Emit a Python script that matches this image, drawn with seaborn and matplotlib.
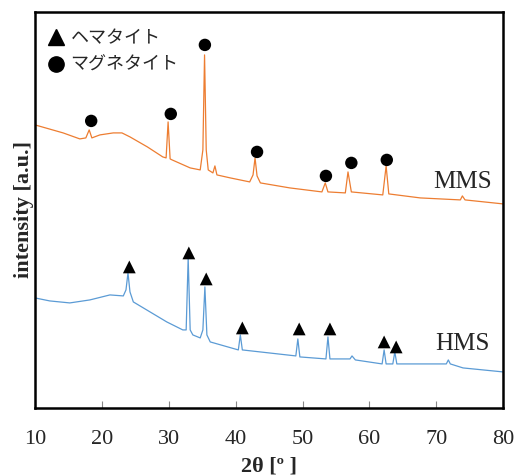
import numpy as np
import pandas as pd
import matplotlib
matplotlib.use("Agg")
import matplotlib.pyplot as plt
import seaborn as sns
from matplotlib.lines import Line2D

# ---- data (2theta in degrees, intensity in arbitrary units) ----
mms_2theta = [10.0, 14.2, 16.7, 17.6, 18.1, 18.5, 19.7, 21.7, 23.0, 24.2, 26.8, 29.1, 29.6,
              29.9, 30.2, 30.5, 33.2, 34.7, 35.1, 35.35, 35.6, 35.9, 36.6, 36.9, 37.2, 39.2,
              42.1, 42.6, 42.9, 43.2, 43.7, 48.1, 52.9, 53.4, 53.8, 56.4, 56.8, 57.3, 62.0,
              62.5, 62.9, 67.6, 73.6, 73.9, 74.3, 80.0]
mms_intensity = [283, 275, 269, 270, 278, 270, 273, 275, 275, 271, 261, 251, 250,
                 286, 249, 248, 240, 238, 258, 353, 258, 238, 235, 242, 233, 230,
                 226, 233, 250, 232, 225, 220, 216, 225, 216, 215, 236, 216, 213,
                 242, 214, 210, 208, 212, 208, 204]

hms_2theta = [10.0, 12.2, 15.2, 18.2, 21.2, 23.2, 23.6, 23.9, 24.2, 24.7, 27.2, 29.7, 32.1,
              32.6, 32.9, 33.2, 33.6, 34.7, 35.1, 35.4, 35.7, 36.2, 40.4, 40.7, 41.0, 49.0,
              49.3, 49.6, 53.5, 53.8, 54.1, 57.1, 57.4, 57.9, 61.9, 62.2, 62.5, 63.5, 63.8,
              64.1, 71.5, 71.8, 72.1, 74.0, 80.0]
hms_intensity = [110, 107, 105, 108, 113, 112, 118, 135, 116, 106, 96, 86, 78,
                 78, 150, 78, 73, 70, 78, 121, 73, 66, 58, 73, 58, 52,
                 69, 51, 49, 71, 49, 49, 52, 48, 44, 58, 44, 44, 56,
                 44, 44, 48, 44, 40, 36]

magnetite_2theta = [18.4, 30.3, 35.4, 43.2, 53.5, 57.3, 62.6]
magnetite_mark_y = [287, 294, 363, 256, 232, 245, 248]
hematite_2theta = [24.1, 33.0, 35.6, 41.0, 49.5, 54.1, 62.2, 64.0]
hematite_mark_y = [141, 155, 129, 80, 79, 79, 66, 61]

x_ticks = [10, 20, 30, 40, 50, 60, 70, 80]
sample_labels = ["MMS", "HMS"]
legend_labels = ["ヘマタイト", "マグネタイト"]

# ---- styling ----
sns.set_style("white")
plt.rcParams["font.family"] = ["Liberation Serif", "Noto Sans CJK JP"]

fig = plt.figure(figsize=(5.15, 4.76), dpi=100)
ax = fig.add_axes([0.068, 0.143, 0.909, 0.832])

df_m = pd.DataFrame({"x": mms_2theta, "y": mms_intensity})
df_h = pd.DataFrame({"x": hms_2theta, "y": hms_intensity})
sns.lineplot(data=df_m, x="x", y="y", ax=ax, color="#ED7D31", lw=0.9,
             sort=False, estimator=None)
sns.lineplot(data=df_h, x="x", y="y", ax=ax, color="#5B9BD5", lw=0.9,
             sort=False, estimator=None)

sns.scatterplot(x=hematite_2theta, y=hematite_mark_y, ax=ax, marker="^",
                color="black", s=85, edgecolor="none", zorder=5)
sns.scatterplot(x=magnetite_2theta, y=magnetite_mark_y, ax=ax, marker="o",
                color="black", s=80, edgecolor="none", zorder=5)

ax.text(73.9, 226, sample_labels[0], fontsize=18, ha="center", va="center",
        family="Liberation Serif")
ax.text(73.9, 64, sample_labels[1], fontsize=18, ha="center", va="center",
        family="Liberation Serif")

handles = [Line2D([], [], ls="none", marker="^", color="black", markersize=11),
           Line2D([], [], ls="none", marker="o", color="black", markersize=11)]
ax.legend(handles, legend_labels, loc="upper left", frameon=False,
          prop={"family": "Noto Sans CJK JP", "size": 13},
          handletextpad=0.3, labelspacing=0.5, borderaxespad=0.0,
          handlelength=1.0, bbox_to_anchor=(0.01, 0.975))

ax.set_xlim(10, 80)
ax.set_ylim(0, 396)
ax.set_xticks(x_ticks)
ax.set_xticklabels([str(t) for t in x_ticks], fontsize=16)
ax.set_yticks([])
ax.tick_params(axis="x", direction="in", length=5, width=0.8, color="#888888",
               pad=16, bottom=True)
ax.set_xlabel("2θ [º ]", fontsize=16, fontweight="bold", labelpad=5)
ax.set_ylabel("intensity [a.u.]", fontsize=16, fontweight="bold", labelpad=1)
for sp in ax.spines.values():
    sp.set_visible(True)
    sp.set_color("black")
    sp.set_linewidth(1.8)

fig.savefig("out.png", dpi=100)
